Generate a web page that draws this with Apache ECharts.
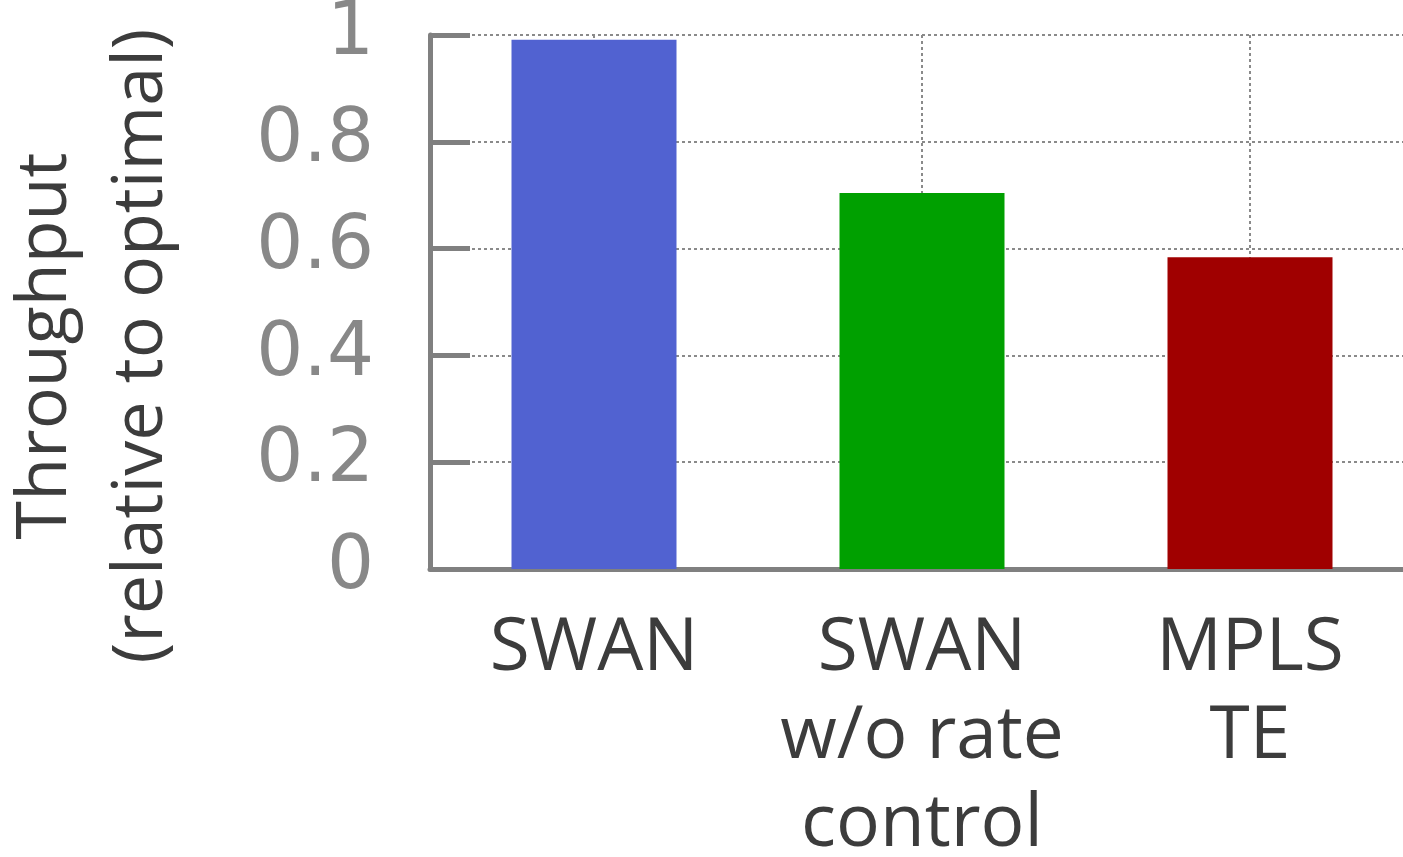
<!DOCTYPE html>
<html>
<head>
<meta charset="utf-8">
<script src="https://cdn.jsdelivr.net/npm/echarts@6/dist/echarts.min.js"></script>
<style>
html,body{margin:0;padding:0;background:#fff;}
#chart{width:1403px;height:857px;}
</style>
</head>
<body>
<div id="chart"></div>
<script>
const categories = ['SWAN', 'SWAN\nw/o rate\ncontrol', 'MPLS\nTE'];
const values = [0.991, 0.704, 0.584];
const barColors = ['#5162D1', '#00A000', '#A00000'];
const yTicks = [0, 0.2, 0.4, 0.6, 0.8, 1];
const yTitle = 'Throughput\n(relative to optimal)';
const gridSlots = ['', '', '', '', '', '', ''];

const chart = echarts.init(document.getElementById('chart'));
const option = {
  animation: false,
  backgroundColor: '#ffffff',
  grid: { left: 430, top: 35, width: 984, height: 534, containLabel: false, outerBoundsMode: 'none' },
  xAxis: [
    {
      type: 'category',
      data: categories,
      boundaryGap: true,
      axisLine: { show: true, lineStyle: { color: '#808080', width: 5 } },
      axisTick: { show: false },
      splitLine: { show: false },
      axisLabel: {
        interval: 0,
        margin: 36,
        color: '#3c3c3c',
        fontFamily: 'Open Sans, Noto Sans, sans-serif',
        fontSize: 73,
        lineHeight: 88
      }
    },
    {
      type: 'category',
      data: gridSlots,
      boundaryGap: false,
      position: 'bottom',
      axisLine: { show: false },
      axisTick: { show: false },
      axisLabel: { show: false },
      splitLine: {
        show: true,
        interval: function (i) { return i % 2 === 1; },
        lineStyle: { color: '#8a8a8a', width: 2, type: [3, 3] }
      }
    }
  ],
  yAxis: {
    type: 'value',
    min: 0,
    max: 1,
    interval: 0.2,
    name: yTitle,
    nameLocation: 'middle',
    nameRotate: 90,
    nameGap: 240,
    nameTextStyle: {
      color: '#3c3c3c',
      fontFamily: 'Open Sans, Noto Sans, sans-serif',
      fontSize: 70,
      lineHeight: 96,
      padding: [0, 88, 0, 0]
    },
    axisLine: { show: true, lineStyle: { color: '#808080', width: 5 } },
    axisTick: { show: true, inside: true, length: 40, lineStyle: { color: '#808080', width: 5 } },
    splitLine: { show: true, lineStyle: { color: '#8a8a8a', width: 2, type: [3, 3] } },
    axisLabel: {
      margin: 56,
      color: '#888888',
      fontFamily: 'DejaVu Sans, sans-serif',
      fontSize: 74,
      formatter: function (v) {
        const t = yTicks.find(function (x) { return Math.abs(x - v) < 1e-9; });
        return t === undefined ? '' : String(t);
      }
    }
  },
  series: [{
    type: 'bar',
    xAxisIndex: 0,
    barWidth: 165,
    data: values.map(function (v, i) {
      return { value: v, itemStyle: { color: barColors[i] } };
    })
  }]
};
chart.setOption(option);
</script>
</body>
</html>
